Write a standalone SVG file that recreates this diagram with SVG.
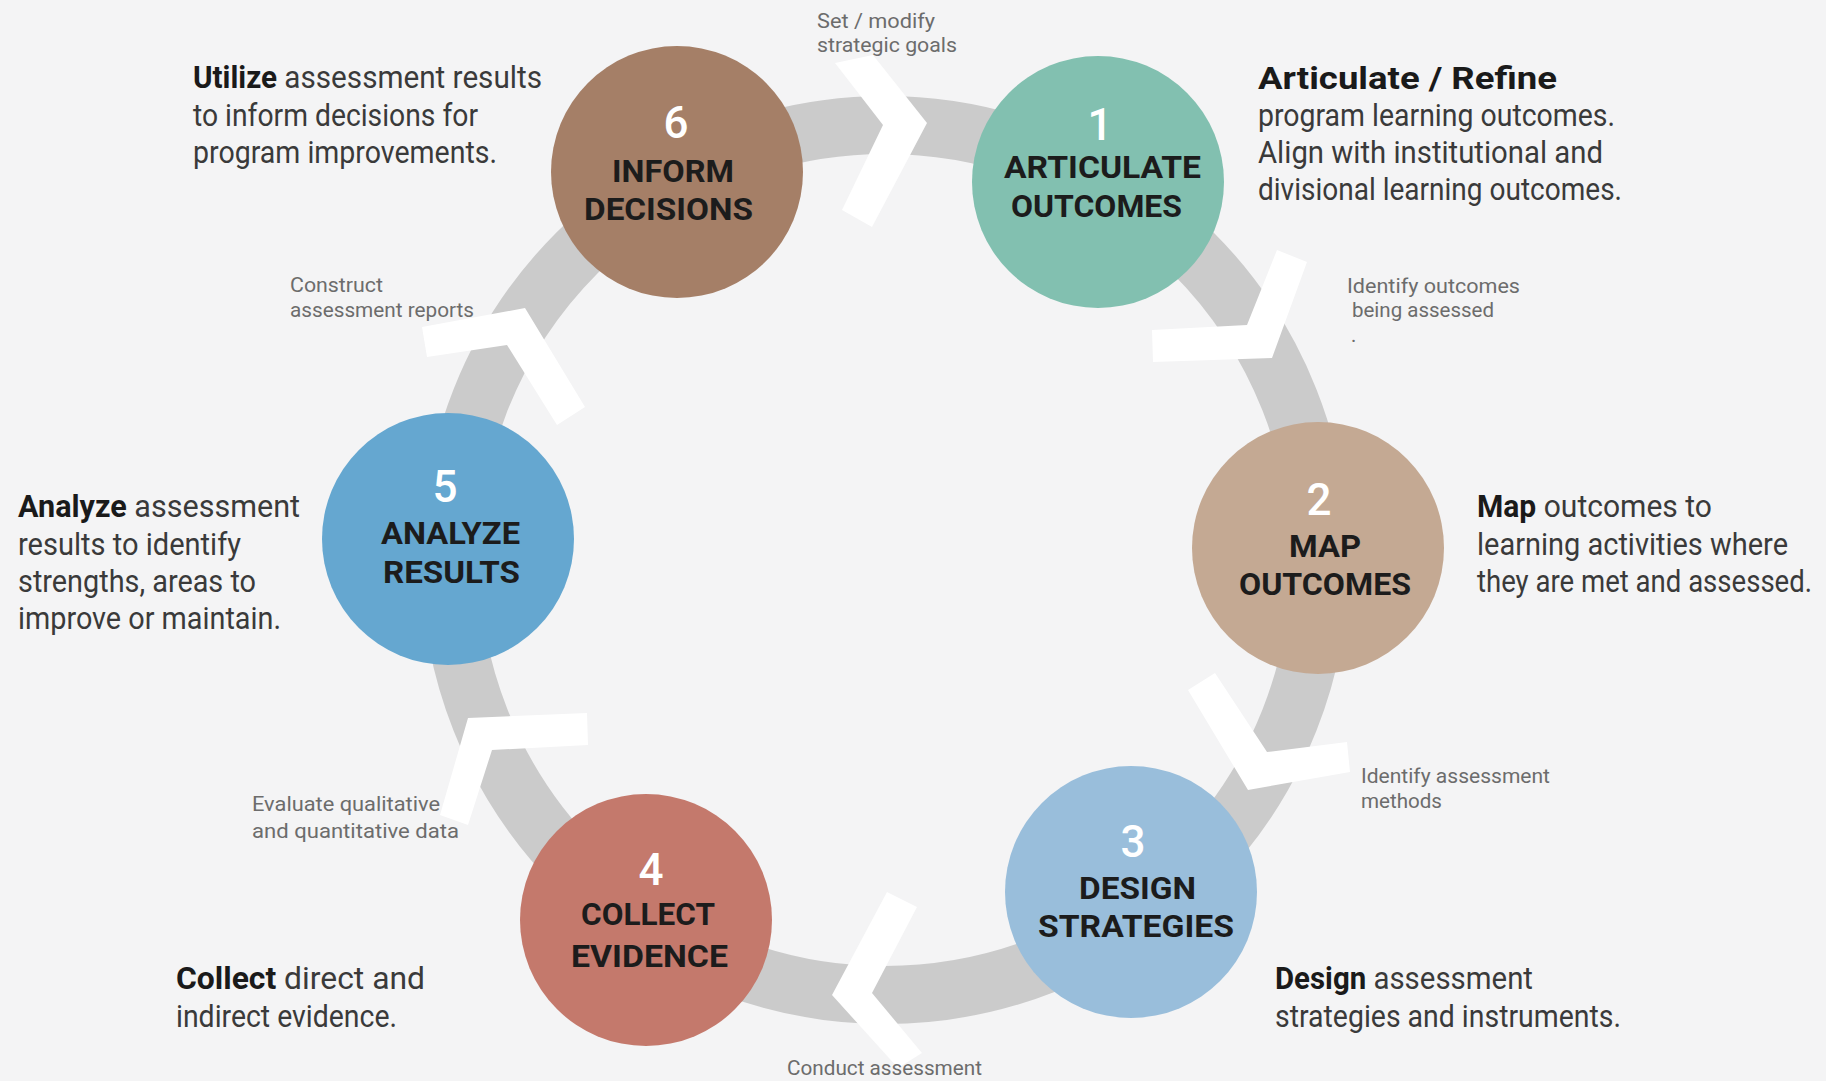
<svg xmlns="http://www.w3.org/2000/svg" width="1826" height="1081" viewBox="0 0 1826 1081">
  <style>
    .bg { fill: #f4f4f5; }
    .ring { fill: none; stroke: #cbcbcb; stroke-width: 58; }
    .chev { fill: #ffffff; }
    .num { font-family: Roboto, "Liberation Sans", sans-serif; font-size: 44px; font-weight: 500; fill: #ffffff; text-anchor: middle; }
    .lbl { font-family: Roboto, "Liberation Sans", sans-serif; font-size: 32px; font-weight: 700; fill: #1c1c1c; }
    .desc { font-family: Roboto, "Liberation Sans", sans-serif; font-size: 31px; font-weight: 400; fill: #3a3a3a; }
    .desc .b { font-weight: 700; fill: #1a1a1a; }
    .step { font-family: Roboto, "Liberation Sans", sans-serif; font-size: 20px; font-weight: 400; fill: #6c6c6c; }
  </style>

  <rect class="bg" x="0" y="0" width="1826" height="1081"/>

  <!-- cycle track, direction chevrons and step notes -->
  <g id="connectors">
    <circle class="ring" cx="885" cy="560" r="435"/>
    <polygon class="chev" points="873,55 927,123 872,227 842,210 883,125 835,63"/>
    <polygon class="chev" points="1277,250 1307,262 1272,358 1153,362 1152,330 1247,325"/>
    <polygon class="chev" points="1215,673 1267,752 1347,742 1350,772 1248,790 1188,690"/>
    <polygon class="chev" points="887,892 917,907 872,993 922,1053 898,1068 832,995"/>
    <polygon class="chev" points="468,718 587,713 588,745 492,750 468,825 440,815"/>
    <polygon class="chev" points="422,327 525,308 585,407 557,425 507,345 427,357"/>

    <text class="step" x="817" y="28" textLength="118" lengthAdjust="spacingAndGlyphs">Set / modify</text>
    <text class="step" x="817" y="52" textLength="140" lengthAdjust="spacingAndGlyphs">strategic goals</text>
    <text class="step" x="1347" y="293" textLength="173" lengthAdjust="spacingAndGlyphs">Identify outcomes</text>
    <text class="step" x="1352" y="317" textLength="142" lengthAdjust="spacingAndGlyphs">being assessed</text>
    <text class="step" x="1351" y="342">.</text>
    <text class="step" x="1361" y="783" textLength="189" lengthAdjust="spacingAndGlyphs">Identify assessment</text>
    <text class="step" x="1361" y="808" textLength="81" lengthAdjust="spacingAndGlyphs">methods</text>
    <text class="step" x="787" y="1075" textLength="195" lengthAdjust="spacingAndGlyphs">Conduct assessment</text>
    <text class="step" x="252" y="811" textLength="188" lengthAdjust="spacingAndGlyphs">Evaluate qualitative</text>
    <text class="step" x="252" y="838" textLength="207" lengthAdjust="spacingAndGlyphs">and quantitative data</text>
    <text class="step" x="290" y="292" textLength="93" lengthAdjust="spacingAndGlyphs">Construct</text>
    <text class="step" x="290" y="317" textLength="184" lengthAdjust="spacingAndGlyphs">assessment reports</text>
  </g>

  <g id="node-1">
    <circle cx="1098" cy="182" r="126" fill="#82c0b0"/>
    <text class="num" x="1100" y="140">1</text>
    <text class="lbl" x="1004" y="178" textLength="197" lengthAdjust="spacingAndGlyphs">ARTICULATE</text>
    <text class="lbl" x="1011" y="217" textLength="171" lengthAdjust="spacingAndGlyphs">OUTCOMES</text>
    <text class="desc" x="1258" y="89" textLength="299" lengthAdjust="spacingAndGlyphs"><tspan class="b">Articulate / Refine</tspan></text>
    <text class="desc" x="1258" y="126" textLength="357" lengthAdjust="spacingAndGlyphs">program learning outcomes.</text>
    <text class="desc" x="1258" y="163" textLength="345" lengthAdjust="spacingAndGlyphs">Align with institutional and</text>
    <text class="desc" x="1258" y="200" textLength="364" lengthAdjust="spacingAndGlyphs">divisional learning outcomes.</text>
  </g>

  <g id="node-2">
    <circle cx="1318" cy="548" r="126" fill="#c4a993"/>
    <text class="num" x="1319" y="515">2</text>
    <text class="lbl" x="1289" y="557" textLength="72" lengthAdjust="spacingAndGlyphs">MAP</text>
    <text class="lbl" x="1239" y="595" textLength="172" lengthAdjust="spacingAndGlyphs">OUTCOMES</text>
    <text class="desc" x="1477" y="517" textLength="235" lengthAdjust="spacingAndGlyphs"><tspan class="b">Map</tspan> outcomes to</text>
    <text class="desc" x="1477" y="555" textLength="311" lengthAdjust="spacingAndGlyphs">learning activities where</text>
    <text class="desc" x="1477" y="592" textLength="335" lengthAdjust="spacingAndGlyphs">they are met and assessed.</text>
  </g>

  <g id="node-3">
    <circle cx="1131" cy="892" r="126" fill="#99bedb"/>
    <text class="num" x="1133" y="857">3</text>
    <text class="lbl" x="1079" y="899" textLength="117" lengthAdjust="spacingAndGlyphs">DESIGN</text>
    <text class="lbl" x="1038" y="937" textLength="196" lengthAdjust="spacingAndGlyphs">STRATEGIES</text>
    <text class="desc" x="1275" y="989" textLength="258" lengthAdjust="spacingAndGlyphs"><tspan class="b">Design</tspan> assessment</text>
    <text class="desc" x="1275" y="1027" textLength="346" lengthAdjust="spacingAndGlyphs">strategies and instruments.</text>
  </g>

  <g id="node-4">
    <circle cx="646" cy="920" r="126" fill="#c4796c"/>
    <text class="num" x="651" y="885">4</text>
    <text class="lbl" x="581" y="925" textLength="134" lengthAdjust="spacingAndGlyphs">COLLECT</text>
    <text class="lbl" x="571" y="967" textLength="157" lengthAdjust="spacingAndGlyphs">EVIDENCE</text>
    <text class="desc" x="176" y="989" textLength="249" lengthAdjust="spacingAndGlyphs"><tspan class="b">Collect</tspan> direct and</text>
    <text class="desc" x="176" y="1027" textLength="221" lengthAdjust="spacingAndGlyphs">indirect evidence.</text>
  </g>

  <g id="node-5">
    <circle cx="448" cy="539" r="126" fill="#65a7d0"/>
    <text class="num" x="445" y="502">5</text>
    <text class="lbl" x="381" y="544" textLength="139" lengthAdjust="spacingAndGlyphs">ANALYZE</text>
    <text class="lbl" x="383" y="583" textLength="137" lengthAdjust="spacingAndGlyphs">RESULTS</text>
    <text class="desc" x="18" y="517" textLength="282" lengthAdjust="spacingAndGlyphs"><tspan class="b">Analyze</tspan> assessment</text>
    <text class="desc" x="18" y="555" textLength="223" lengthAdjust="spacingAndGlyphs">results to identify</text>
    <text class="desc" x="18" y="592" textLength="238" lengthAdjust="spacingAndGlyphs">strengths, areas to</text>
    <text class="desc" x="18" y="629" textLength="263" lengthAdjust="spacingAndGlyphs">improve or maintain.</text>
  </g>

  <g id="node-6">
    <circle cx="677" cy="172" r="126" fill="#a57f67"/>
    <text class="num" x="676" y="138">6</text>
    <text class="lbl" x="612" y="182" textLength="122" lengthAdjust="spacingAndGlyphs">INFORM</text>
    <text class="lbl" x="584" y="220" textLength="169" lengthAdjust="spacingAndGlyphs">DECISIONS</text>
    <text class="desc" x="193" y="88" textLength="349" lengthAdjust="spacingAndGlyphs"><tspan class="b">Utilize</tspan> assessment results</text>
    <text class="desc" x="193" y="126" textLength="285" lengthAdjust="spacingAndGlyphs">to inform decisions for</text>
    <text class="desc" x="193" y="163" textLength="304" lengthAdjust="spacingAndGlyphs">program improvements.</text>
  </g>
</svg>
